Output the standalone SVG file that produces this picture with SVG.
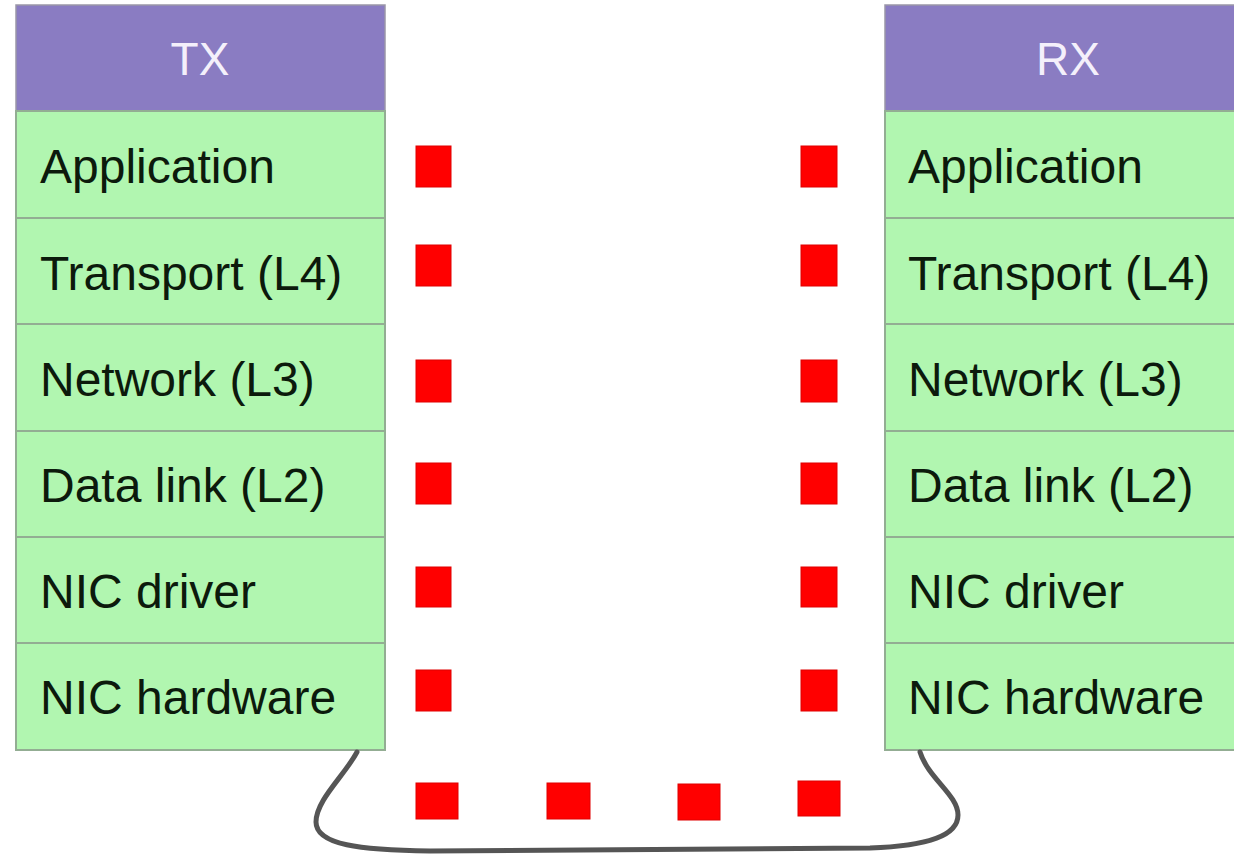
<svg xmlns="http://www.w3.org/2000/svg" width="1234" height="859" viewBox="0 0 1234 859">
  <style>
    .hdr { fill: #8a7cc2; stroke: #9a96a8; stroke-width: 1.5; }
    .layer { fill: #b1f6b0; stroke: #93ad93; stroke-width: 2; }
    .hdr-text { font-family: "Liberation Sans", Arial, sans-serif; font-size: 46px; fill: #f4f0fb; text-anchor: middle; }
    .layer-text { font-family: "Liberation Sans", Arial, sans-serif; font-size: 48px; fill: #0c1a0c; }
    .pkt { fill: #ff0000; stroke: #e00000; stroke-width: 1; }
    .cable { fill: none; stroke: #555555; stroke-width: 5; stroke-linecap: round; }
  </style>
  <rect width="1234" height="859" fill="#ffffff"/>

  <!-- transmit stack -->
  <g id="tx">
    <rect class="hdr" x="16" y="5" width="369" height="106"/>
    <text class="hdr-text" x="200" y="75">TX</text>
    <rect class="layer" x="16" y="111" width="369" height="107"/>
    <text class="layer-text" x="40" y="183">Application</text>
    <rect class="layer" x="16" y="218" width="369" height="106"/>
    <text class="layer-text" x="40" y="290">Transport (L4)</text>
    <rect class="layer" x="16" y="324" width="369" height="107"/>
    <text class="layer-text" x="40" y="396">Network (L3)</text>
    <rect class="layer" x="16" y="431" width="369" height="106"/>
    <text class="layer-text" x="40" y="502">Data link (L2)</text>
    <rect class="layer" x="16" y="537" width="369" height="106"/>
    <text class="layer-text" x="40" y="608">NIC driver</text>
    <rect class="layer" x="16" y="643" width="369" height="107"/>
    <text class="layer-text" x="40" y="714">NIC hardware</text>
  </g>

  <!-- receive stack -->
  <g id="rx">
    <rect class="hdr" x="885" y="5" width="369" height="106"/>
    <text class="hdr-text" x="1068" y="75">RX</text>
    <rect class="layer" x="885" y="111" width="369" height="107"/>
    <text class="layer-text" x="908" y="183">Application</text>
    <rect class="layer" x="885" y="218" width="369" height="106"/>
    <text class="layer-text" x="908" y="290">Transport (L4)</text>
    <rect class="layer" x="885" y="324" width="369" height="107"/>
    <text class="layer-text" x="908" y="396">Network (L3)</text>
    <rect class="layer" x="885" y="431" width="369" height="106"/>
    <text class="layer-text" x="908" y="502">Data link (L2)</text>
    <rect class="layer" x="885" y="537" width="369" height="106"/>
    <text class="layer-text" x="908" y="608">NIC driver</text>
    <rect class="layer" x="885" y="643" width="369" height="107"/>
    <text class="layer-text" x="908" y="714">NIC hardware</text>
  </g>

  <!-- cable linking the two NICs -->
  <g id="connectors">
    <path class="cable" d="M357,752 C345,775 316,800 316,822 C316,845 360,850 430,851 L870,848 C930,846 958,835 958,815 C958,795 928,778 920,752"/>
  </g>

  <!-- packets travelling down, across and up -->
  <g id="packets-tx">
    <rect class="pkt" x="416" y="146" width="35" height="41"/>
    <rect class="pkt" x="416" y="245" width="35" height="41"/>
    <rect class="pkt" x="416" y="360" width="35" height="42"/>
    <rect class="pkt" x="416" y="463" width="35" height="41"/>
    <rect class="pkt" x="416" y="567" width="35" height="40"/>
    <rect class="pkt" x="416" y="670" width="35" height="41"/>
  </g>
  <g id="packets-rx">
    <rect class="pkt" x="801" y="146" width="36" height="41"/>
    <rect class="pkt" x="801" y="245" width="36" height="41"/>
    <rect class="pkt" x="801" y="360" width="36" height="42"/>
    <rect class="pkt" x="801" y="463" width="36" height="41"/>
    <rect class="pkt" x="801" y="567" width="36" height="40"/>
    <rect class="pkt" x="801" y="670" width="36" height="41"/>
  </g>
  <g id="packets-wire">
    <rect class="pkt" x="416" y="783" width="42" height="36"/>
    <rect class="pkt" x="547" y="783" width="43" height="36"/>
    <rect class="pkt" x="678" y="784" width="42" height="36"/>
    <rect class="pkt" x="798" y="781" width="42" height="35"/>
  </g>
</svg>
